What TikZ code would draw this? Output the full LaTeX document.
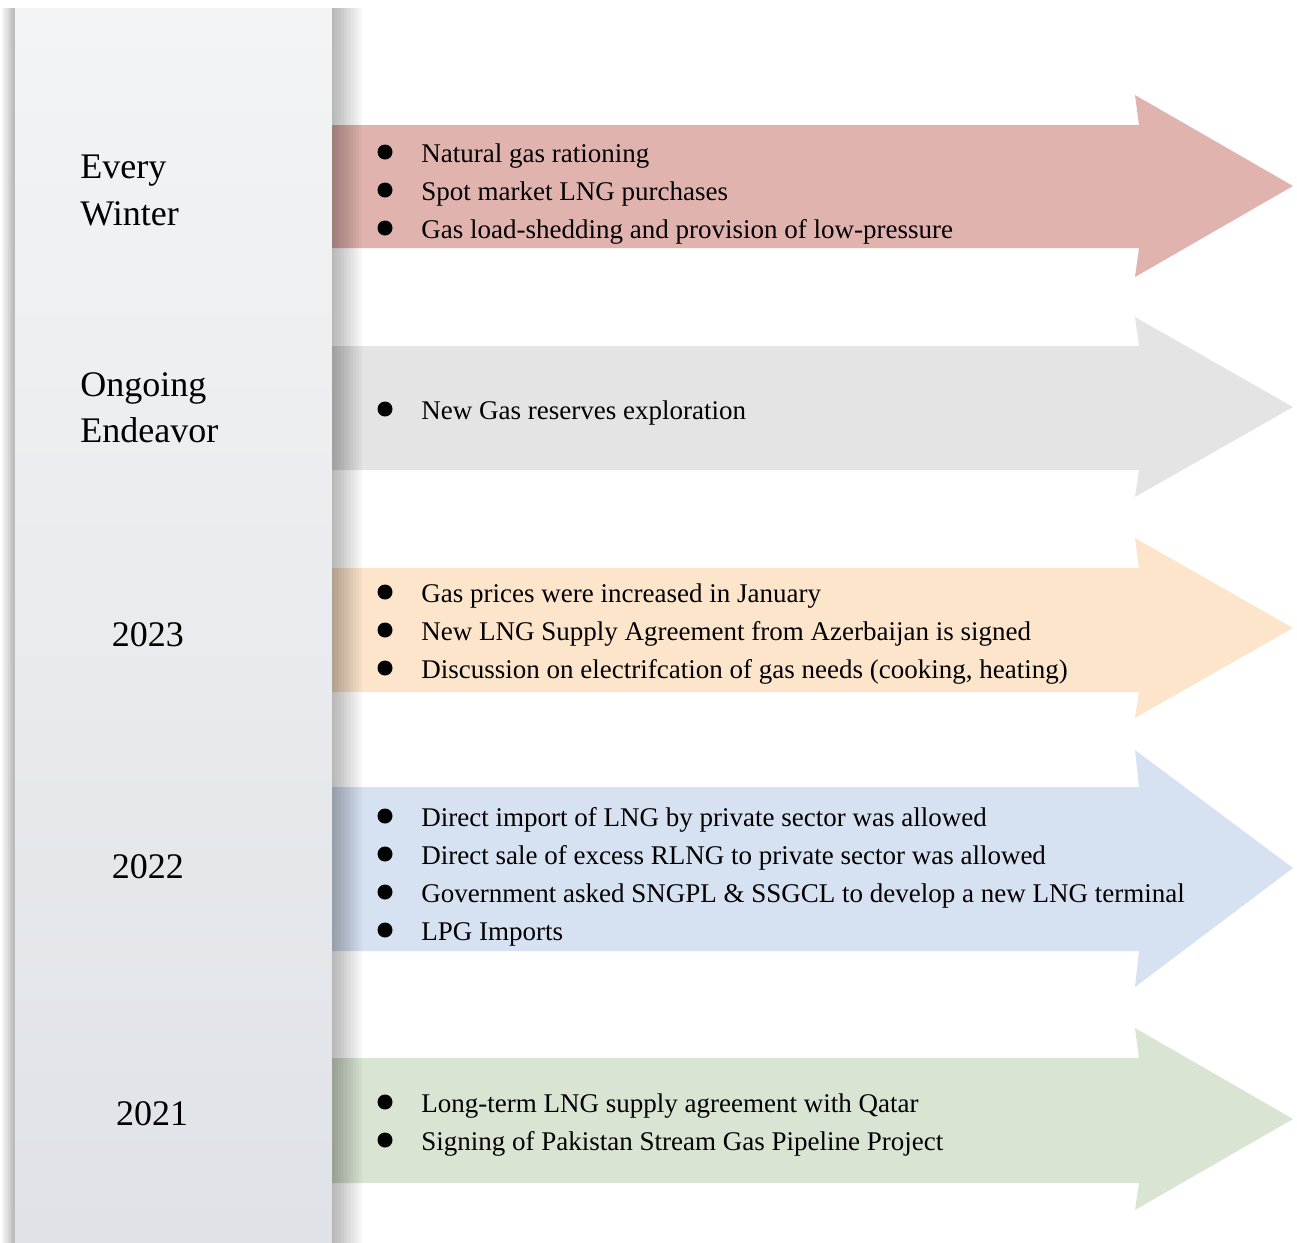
\documentclass[tikz,border=0pt]{standalone}
\usepackage{fontspec}
\setmainfont{Liberation Serif}
\usetikzlibrary{positioning}

\definecolor{winterred}{RGB}{225,179,174}
\definecolor{ongoinggray}{RGB}{228,228,228}
\definecolor{peach}{RGB}{253,229,204}
\definecolor{paleblue}{RGB}{214,225,241}
\definecolor{palegreen}{RGB}{217,228,211}

% #1 colour, #2/#3 body top/bottom, #4/#5 head top/bottom, #6 tip
\newcommand{\gasarrow}[6]{%
  \fill[#1] (332,#2) -- (1139,#2) -- (1135,#4) -- (1293,#6) -- (1135,#5)
    -- (1139,#3) -- (332,#3) -- cycle;}

\tikzset{
  itemtext/.style={anchor=base west,inner sep=0pt,font=\fontsize{13.5}{16}\selectfont},
  itemdot/.style={circle,fill=black,inner sep=0pt,minimum size=7.5pt},
  yeartext/.style={inner sep=0pt,font=\fontsize{18}{23.5}\selectfont},
}

\begin{document}
\begin{tikzpicture}[x=0.5pt,y=-0.5pt]
\useasboundingbox (0,0) rectangle (1297,1243);

% left panel with shadow
\foreach \k in {0,...,7}
  \fill[black,opacity=0.045] (15-1.8*\k,8) rectangle (332,1243);
\shade[top color={rgb,255:red,243;green,244;blue,245},
       bottom color={rgb,255:red,223;green,226;blue,231}] (15,8) rectangle (332,1243);

% arrows
\gasarrow{winterred}{125}{248}{95}{277}{186}
\gasarrow{ongoinggray}{346}{470}{317}{497}{407}
\gasarrow{peach}{568}{692}{538}{718}{628}
\gasarrow{paleblue}{787}{951}{750}{987}{868}
\gasarrow{palegreen}{1058}{1183}{1028}{1210}{1119}

% shadow of the panel edge
\foreach \k in {0,...,9}
  \fill[black,opacity=0.03] (332,8) rectangle (362-3*\k,1243);

% period labels
\node[yeartext,anchor=base west] (every) at (80,178) {Every};
\node[yeartext,anchor=base west] (winter) at (80,225) {Winter};
\node[yeartext,anchor=base west] (ongoing) at (80,396) {Ongoing};
\node[yeartext,anchor=base west] (endeavor) at (80,442) {Endeavor};
\node[yeartext,anchor=base] (y2023) at (148,646) {2023};
\node[yeartext,anchor=base] (y2022) at (148,878) {2022};
\node[yeartext,anchor=base] (y2021) at (152,1125) {2021};

% bullet items
\foreach \t [count=\i] in {Natural gas rationing,
    Spot market LNG purchases,
    Gas load-shedding and provision of low-pressure} {
  \node[itemdot] (wd\i) at (385,114+38*\i) {};
  \node[itemtext] (wt\i) at (421,124+38*\i) {\t};
}
\node[itemdot] (od1) at (385,409) {};
\node[itemtext] (ot1) at (421,419) {New Gas reserves exploration};
\foreach \t [count=\i] in {Gas prices were increased in January,
    New LNG Supply Agreement from Azerbaijan is signed,
    {Discussion on electrifcation of gas needs (cooking, heating)}} {
  \node[itemdot] (cd\i) at (385,554+38*\i) {};
  \node[itemtext] (ct\i) at (421,564+38*\i) {\t};
}
\foreach \t [count=\i] in {Direct import of LNG by private sector was allowed,
    Direct sale of excess RLNG to private sector was allowed,
    Government asked SNGPL \& SSGCL to develop a new LNG terminal,
    LPG Imports} {
  \node[itemdot] (bd\i) at (385,778+38*\i) {};
  \node[itemtext] (bt\i) at (421,788+38*\i) {\t};
}
\foreach \t [count=\i] in {Long-term LNG supply agreement with Qatar,
    Signing of Pakistan Stream Gas Pipeline Project} {
  \node[itemdot] (gd\i) at (385,1064+38*\i) {};
  \node[itemtext] (gt\i) at (421,1074+38*\i) {\t};
}
\end{tikzpicture}
\end{document}
